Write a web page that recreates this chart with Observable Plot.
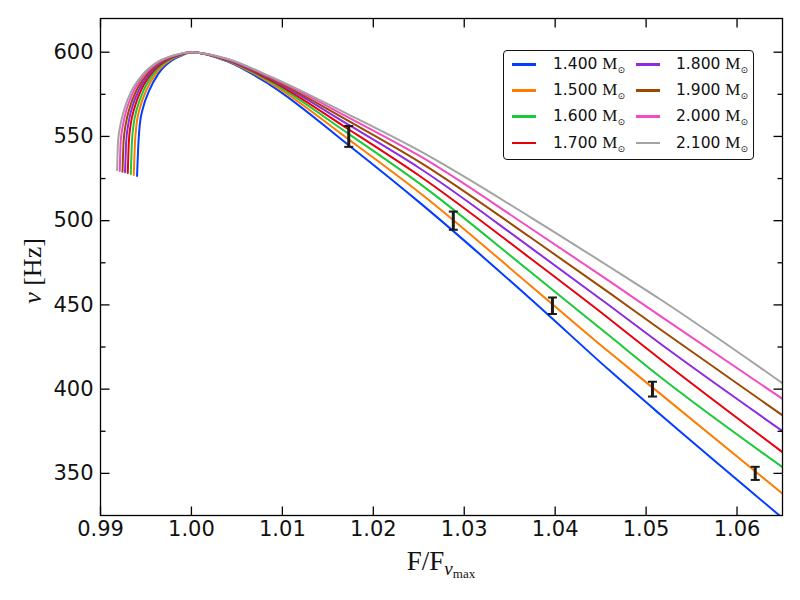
<!DOCTYPE html>
<html><head><meta charset="utf-8">
<script src="https://cdn.jsdelivr.net/npm/d3@7"></script>
<script src="https://cdn.jsdelivr.net/npm/@observablehq/plot@0.6"></script>
<style>
body{margin:0;background:#fff;}
#wrap{position:relative;width:800px;height:600px;}
#legend{position:absolute;left:503px;top:50px;width:251px;height:110px;border:1.3px solid #111;border-radius:4px;background:#fff;box-sizing:border-box;}
.swatch{position:absolute;width:24px;height:2.5px;}
.lab{position:absolute;font-family:"DejaVu Sans";font-size:15.5px;color:#111;line-height:18px;white-space:nowrap;}
.lab .m{font-family:"Liberation Serif";font-size:17px;}
.lab .s{font-family:"DejaVu Sans";font-size:9px;position:relative;top:4px;}
</style></head>
<body><div id="wrap"><div id="chart"></div><div id="legend"></div></div>
<script>
// masses (solar masses) and legend labels
const massLabels = ["1.400","1.500","1.600","1.700","1.800","1.900","2.000","2.100"];
const colors = ["#023eff","#ff7c00","#1ac938","#e8000b","#8b2be2","#9f4800","#f14cc1","#a3a3a3"];

// left (rising) branch: start points and x read at shared nu levels
const startX  = [0.99402,0.99366,0.99333,0.99300,0.99270,0.99242,0.99212,0.99183];
const startNu = [526.5,527.1,527.7,528.3,528.7,529.1,529.5,530.0];
const leftNu = [547,557,567,577,587,595,598];
const leftX = [
  [0.99418,0.99432,0.99468,0.99534,0.99633,0.99780,0.99890],
  [0.99380,0.99396,0.99434,0.99501,0.99605,0.99758,0.99874],
  [0.99346,0.99364,0.99404,0.99472,0.99580,0.99739,0.99861],
  [0.99312,0.99332,0.99374,0.99443,0.99555,0.99720,0.99847],
  [0.99283,0.99305,0.99347,0.99418,0.99534,0.99703,0.99835],
  [0.99254,0.99277,0.99321,0.99393,0.99513,0.99687,0.99823],
  [0.99222,0.99248,0.99293,0.99366,0.99489,0.99669,0.99810],
  [0.99193,0.99220,0.99267,0.99341,0.99468,0.99652,0.99798]
];
// right (falling) branch: nu read at shared x positions
const rightX = [1.000,1.004,1.0086,1.0174,1.0251,1.0373,1.046,1.0515,1.065];
const rightNu = [
  [600,594.5,580.8,544.3,510.7,453.5,411.0,385.2,323.5],
  [600,594.8,582.0,547.8,516.6,461.4,421.7,397.5,338.0],
  [600,595.0,582.8,551.1,522.0,469.5,431.5,407.5,353.7],
  [600,595.2,583.6,553.8,526.5,477.5,441.5,418.0,362.6],
  [600,595.4,584.3,556.5,531.1,484.0,449.5,427.2,375.1],
  [600,595.6,584.8,558.8,534.8,490.0,457.0,435.7,384.4],
  [600,595.8,585.3,560.9,538.4,495.5,464.0,443.6,394.2],
  [600,596.0,585.8,562.7,541.4,502.0,472.5,453.5,403.5]
];
// observed points with error bars
const obsX  = [1.0173,1.0288,1.0397,1.0507,1.0620];
const obsNu = [550,500,449.5,400,350];
const obsErr= [6.2,5.4,4.9,4.4,3.9];

const xTicks = [0.99,1.00,1.01,1.02,1.03,1.04,1.05,1.06];
const yTicks = [350,400,450,500,550,600];
const yMinor = [375,425,475,525,575];

const rows = [];
massLabels.forEach((m,i)=>{
  rows.push({m:i, x:startX[i], nu:startNu[i]});
  leftNu.forEach((nu,j)=>rows.push({m:i, x:leftX[i][j], nu}));
  rightX.forEach((x,j)=>rows.push({m:i, x, nu:rightNu[i][j]}));
});
const obs = obsX.map((x,i)=>({x, nu:obsNu[i], e:obsErr[i]}));

const seg = (x1,y1,x2,y2)=>({draw(c){c.moveTo(x1,y1);c.lineTo(x2,y2);}});
const tk = (arr, anchor, sym, sw) => Plot.dot(arr, {
  [anchor==="bottom"||anchor==="top" ? "x":"y"]: d=>d,
  frameAnchor: anchor, symbol: sym, stroke:"#000", strokeWidth: sw ?? 1.3, fill:"none"});

const chart = Plot.plot({
  width: 800, height: 600,
  marginLeft: 100, marginRight: 18, marginTop: 18, marginBottom: 85,
  style: {fontFamily: "DejaVu Sans", fontSize: "21px", color: "#111", background: "#fff"},
  x: {domain: [0.99, 1.065]},
  y: {domain: [325, 620]},
  marks: [
    Plot.line(rows, {x:"x", y:"nu", z:"m", stroke: d=>colors[d.m], strokeWidth: 2, curve: "monotone-x", clip: true}),
    Plot.ruleX(obs, {x:"x", y1: d=>d.nu-d.e, y2: d=>d.nu+d.e, stroke:"#1a1a1a", strokeWidth: 3}),
    Plot.dot(obs, {x:"x", y: d=>d.nu-d.e, symbol: seg(-4.5,0,4.5,0), stroke:"#1a1a1a", strokeWidth: 2, fill:"none"}),
    Plot.dot(obs, {x:"x", y: d=>d.nu+d.e, symbol: seg(-4.5,0,4.5,0), stroke:"#1a1a1a", strokeWidth: 2, fill:"none"}),
    Plot.frame({stroke:"#000", strokeWidth: 1.3}),
    tk(xTicks, "bottom", seg(0,0,0,-9)),
    tk(xTicks, "top", seg(0,0,0,9)),
    tk(yTicks, "left", seg(0,0,9,0)),
    tk(yTicks, "right", seg(0,0,-9,0)),
    tk(yMinor, "left", seg(0,0,5,0)),
    tk(yMinor, "right", seg(0,0,-5,0)),
    Plot.axisX(xTicks, {tickSize: 0, tickPadding: 6, tickFormat: d3.format(".2f"), label: null}),
    Plot.axisY(yTicks, {tickSize: 0, tickPadding: 7, label: null})
  ]
});
document.getElementById("chart").appendChild(chart);

// axis titles with sub/superscripts
const svg = d3.select(chart);
const xt = svg.append("text").attr("x", 441).attr("y", 570).attr("text-anchor","middle")
  .attr("font-family","Liberation Serif").attr("font-size", 27).attr("fill","#111");
xt.append("tspan").text("F/F");
xt.append("tspan").attr("font-style","italic").attr("font-size",19).attr("dy",5).text("ν");
xt.append("tspan").attr("font-size",13).attr("dy",3).text("max");
const yt = svg.append("text").attr("transform","translate(41,271) rotate(-90)").attr("text-anchor","middle")
  .attr("font-family","Liberation Serif").attr("font-size", 26).attr("fill","#111");
yt.append("tspan").attr("font-style","italic").text("ν");
yt.append("tspan").text(" [Hz]");

// legend
const lg = document.getElementById("legend");
massLabels.forEach((m,i)=>{
  const c = Math.floor(i/4), r = i%4;
  const sw = document.createElement("div");
  sw.className = "swatch"; sw.style.background = colors[i];
  sw.style.left = (8 + c*124) + "px"; sw.style.top = (12 + r*26.2) + "px";
  lg.appendChild(sw);
  const t = document.createElement("div");
  t.className = "lab";
  t.style.left = (49 + c*123) + "px"; t.style.top = (4 + r*26.2) + "px";
  t.innerHTML = `${m} <span class="m">M</span><span class="s">⊙</span>`;
  lg.appendChild(t);
});
</script></body></html>
